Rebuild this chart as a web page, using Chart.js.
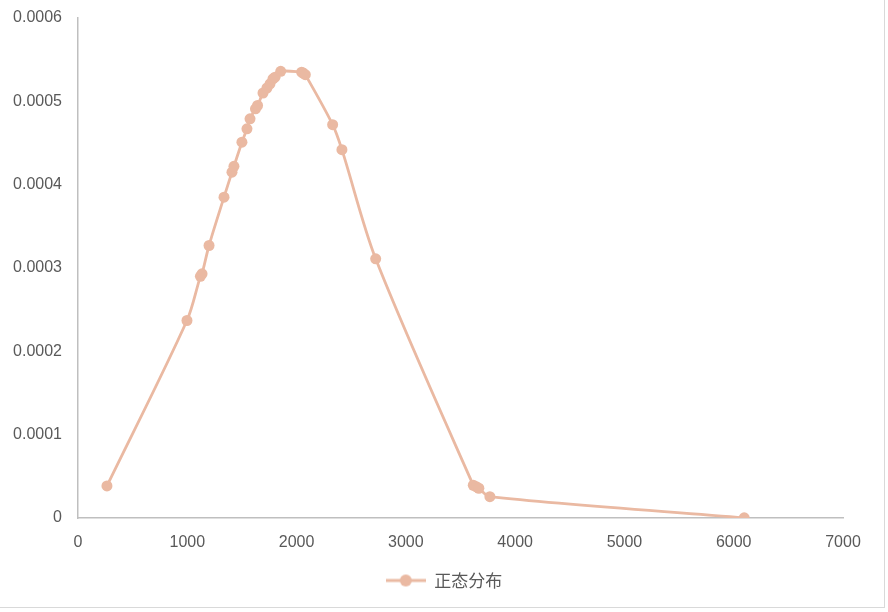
<!DOCTYPE html>
<html>
<head>
<meta charset="utf-8">
<script src="https://cdn.jsdelivr.net/npm/chart.js@4"></script>
<style>
  html, body { margin: 0; padding: 0; background: #fff; }
  #wrap { position: relative; width: 888px; height: 612px; }
  #edgeR { position: absolute; left: 884px; top: 0; width: 1px; height: 607px; background: #d9d9d9; }
  #edgeB { position: absolute; left: 0; top: 607px; width: 885px; height: 1px; background: #d9d9d9; }
</style>
</head>
<body>
<div id="wrap">
  <canvas id="chart" width="888" height="612"></canvas>
  <div id="edgeR"></div>
  <div id="edgeB"></div>
</div>
<script>
const seriesName = '正态分布';
const xValues = [265, 997, 1120, 1135, 1199, 1336, 1409, 1427, 1500, 1546, 1574, 1624, 1643,
  1693, 1729, 1757, 1784, 1803, 1855, 2046, 2060, 2080, 2330, 2415, 2724, 3617, 3645, 3668, 3769, 6096];
const yValues = [0.0000385, 0.000237, 0.000290, 0.000293, 0.000327, 0.000385, 0.000415, 0.000422, 0.000451,
  0.000467, 0.000479, 0.000491, 0.000495, 0.000510, 0.000516, 0.000521, 0.000527, 0.000529, 0.000536,
  0.000535, 0.000534, 0.000532, 0.000472, 0.000442, 0.000311, 0.0000393, 0.0000375, 0.0000357, 0.0000256, 0.0000002];
const xTicks = [0, 1000, 2000, 3000, 4000, 5000, 6000, 7000];
const yTicks = [0, 0.0001, 0.0002, 0.0003, 0.0004, 0.0005, 0.0006];

const color = '#EAB9A2';
const textColor = '#595959';
const axisColor = '#BFBFBF';

const points = xValues.map((x, i) => ({ x: x, y: yValues[i] }));

// legend marker: short line with a dot
const marker = document.createElement('canvas');
marker.width = 40; marker.height = 14;
const mctx = marker.getContext('2d');
mctx.strokeStyle = color; mctx.lineWidth = 3;
mctx.beginPath(); mctx.moveTo(0, 7); mctx.lineTo(40, 7); mctx.stroke();
mctx.fillStyle = color;
mctx.beginPath(); mctx.arc(20, 7, 6, 0, Math.PI * 2); mctx.fill();

Chart.defaults.font.family = '"Liberation Sans", Arial, sans-serif';
Chart.defaults.color = textColor;

new Chart(document.getElementById('chart'), {
  type: 'scatter',
  data: {
    datasets: [{
      label: seriesName,
      data: points,
      showLine: true,
      borderColor: color,
      backgroundColor: color,
      borderWidth: 2.8,
      pointRadius: 5.5,
      pointBorderWidth: 0,
      tension: 0.3
    }]
  },
  options: {
    responsive: false,
    animation: false,
    layout: { padding: { left: 0, right: 0, top: 18, bottom: 13 } },
    plugins: {
      legend: {
        position: 'bottom',
        labels: {
          usePointStyle: true,
          pointStyleWidth: 40,
          padding: 10,
          font: { size: 17, family: '"Noto Sans CJK SC", sans-serif' },
          color: textColor,
          generateLabels: chart => [{
            text: seriesName,
            pointStyle: marker,
            fillStyle: color,
            strokeStyle: color,
            lineWidth: 0,
            datasetIndex: 0,
            fontColor: textColor
          }]
        }
      },
      tooltip: { enabled: false }
    },
    scales: {
      x: {
        type: 'linear',
        min: 0, max: 7000,
        afterBuildTicks: s => { s.ticks = xTicks.map(v => ({ value: v })); },
        grid: { display: false, drawTicks: false },
        border: { color: axisColor, width: 1.5 },
        ticks: { padding: 15, font: { size: 16 }, color: textColor, callback: v => String(v) },
        afterFit: s => { s.height = 44; s.paddingLeft = 0; s.paddingRight = 45; }
      },
      y: {
        type: 'linear',
        min: 0, max: 0.0006,
        afterBuildTicks: s => { s.ticks = yTicks.map(v => ({ value: v })); },
        grid: { display: false, drawTicks: false },
        border: { color: axisColor, width: 1.5 },
        ticks: {
          padding: 16, font: { size: 16 }, color: textColor,
          callback: v => v === 0 ? '0' : v.toFixed(4)
        },
        afterFit: s => { s.width = 78; s.paddingTop = 0; s.paddingBottom = 0; }
      }
    }
  }
});
</script>
</body>
</html>
